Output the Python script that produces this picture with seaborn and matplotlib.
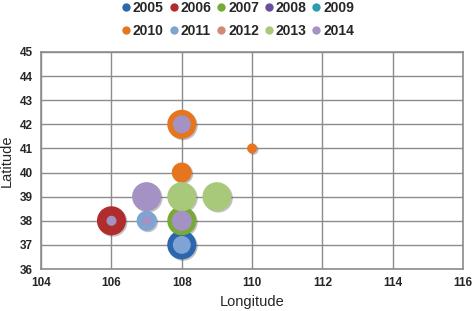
import pandas as pd
import matplotlib.pyplot as plt
import matplotlib.patheffects as pe
from matplotlib.lines import Line2D
import seaborn as sns

# legend series and colours
years = ['2005', '2006', '2007', '2008', '2009', '2010', '2011', '2012', '2013', '2014']
colors = ['#2c66ae', '#b02d2e', '#78aa38', '#6b4f98', '#2b9cb1',
          '#e5761f', '#7fa3d3', '#d08a78', '#a8c97a', '#a392c3']

# bubbles (series, longitude, latitude, bubble size), in drawing order
year = ['2005', '2006', '2007', '2010', '2010', '2010', '2011', '2011',
        '2013', '2013', '2014', '2014', '2014', '2014', '2014']
lon = [108, 106, 108, 108, 108, 110, 108, 107, 108, 109, 108, 106, 107, 108, 107]
lat = [37, 38, 38, 42, 40, 41, 37, 38, 39, 39, 42, 38, 38, 38, 39]
bsize = [8.4, 8.4, 8.4, 8.4, 4.0, 1.0, 3.2, 4.0, 8.4, 8.4, 3.2, 1.0, 0.8, 4.0, 8.4]

df = pd.DataFrame({'year': year, 'lon': lon, 'lat': lat, 'bsize': bsize})
palette = dict(zip(years, colors))

sns.set_style('white')
plt.rcParams['font.family'] = ['Liberation Sans', 'DejaVu Sans']

fig = plt.figure(figsize=(4.73, 3.11), dpi=100)
ax = fig.add_axes([0.087, 0.135, 0.892, 0.698])

sns.scatterplot(data=df, x='lon', y='lat', hue='year', palette=palette,
                size='bsize', sizes=(0, 520), size_norm=(0, 10),
                linewidth=0, legend=False, ax=ax, zorder=3)
ax.collections[-1].set_path_effects(
    [pe.SimplePatchShadow(offset=(1, -1), shadow_rgbFace='#333333', alpha=0.3), pe.Normal()])

ax.set_xlim(104, 116)
ax.set_ylim(36, 45)
ax.set_xticks(range(104, 117, 2))
ax.set_yticks(range(36, 46))
ax.grid(True, color='#8c8c8c', linewidth=1)
ax.set_axisbelow(True)
for sp in ax.spines.values():
    sp.set_color('#8c8c8c')
    sp.set_linewidth(1.2)
ax.tick_params(axis='both', direction='out', length=4, width=1, color='#8c8c8c',
               labelsize=8.5, pad=2)
for lab in ax.get_xticklabels() + ax.get_yticklabels():
    lab.set_fontweight('bold')
ax.set_xlabel('Longitude', fontsize=10.5, labelpad=4)
ax.set_ylabel('Latitude', fontsize=10.5, labelpad=4)

# legend filled row by row (matplotlib fills columns first)
order = [0, 5, 1, 6, 2, 7, 3, 8, 4, 9]
handles = [Line2D([], [], marker='o', linestyle='', markersize=6,
                  markerfacecolor=colors[i], markeredgewidth=0) for i in order]
labels = [years[i] for i in order]
fig.legend(handles, labels, loc='upper center', bbox_to_anchor=(0.5, 1.0), ncol=5,
           frameon=False, prop={'size': 10, 'weight': 'bold'}, handletextpad=0.0,
           columnspacing=0.2, handlelength=1.0, labelspacing=0.65,
           borderpad=0.05, borderaxespad=0)

fig.savefig('out.png', dpi=100)
